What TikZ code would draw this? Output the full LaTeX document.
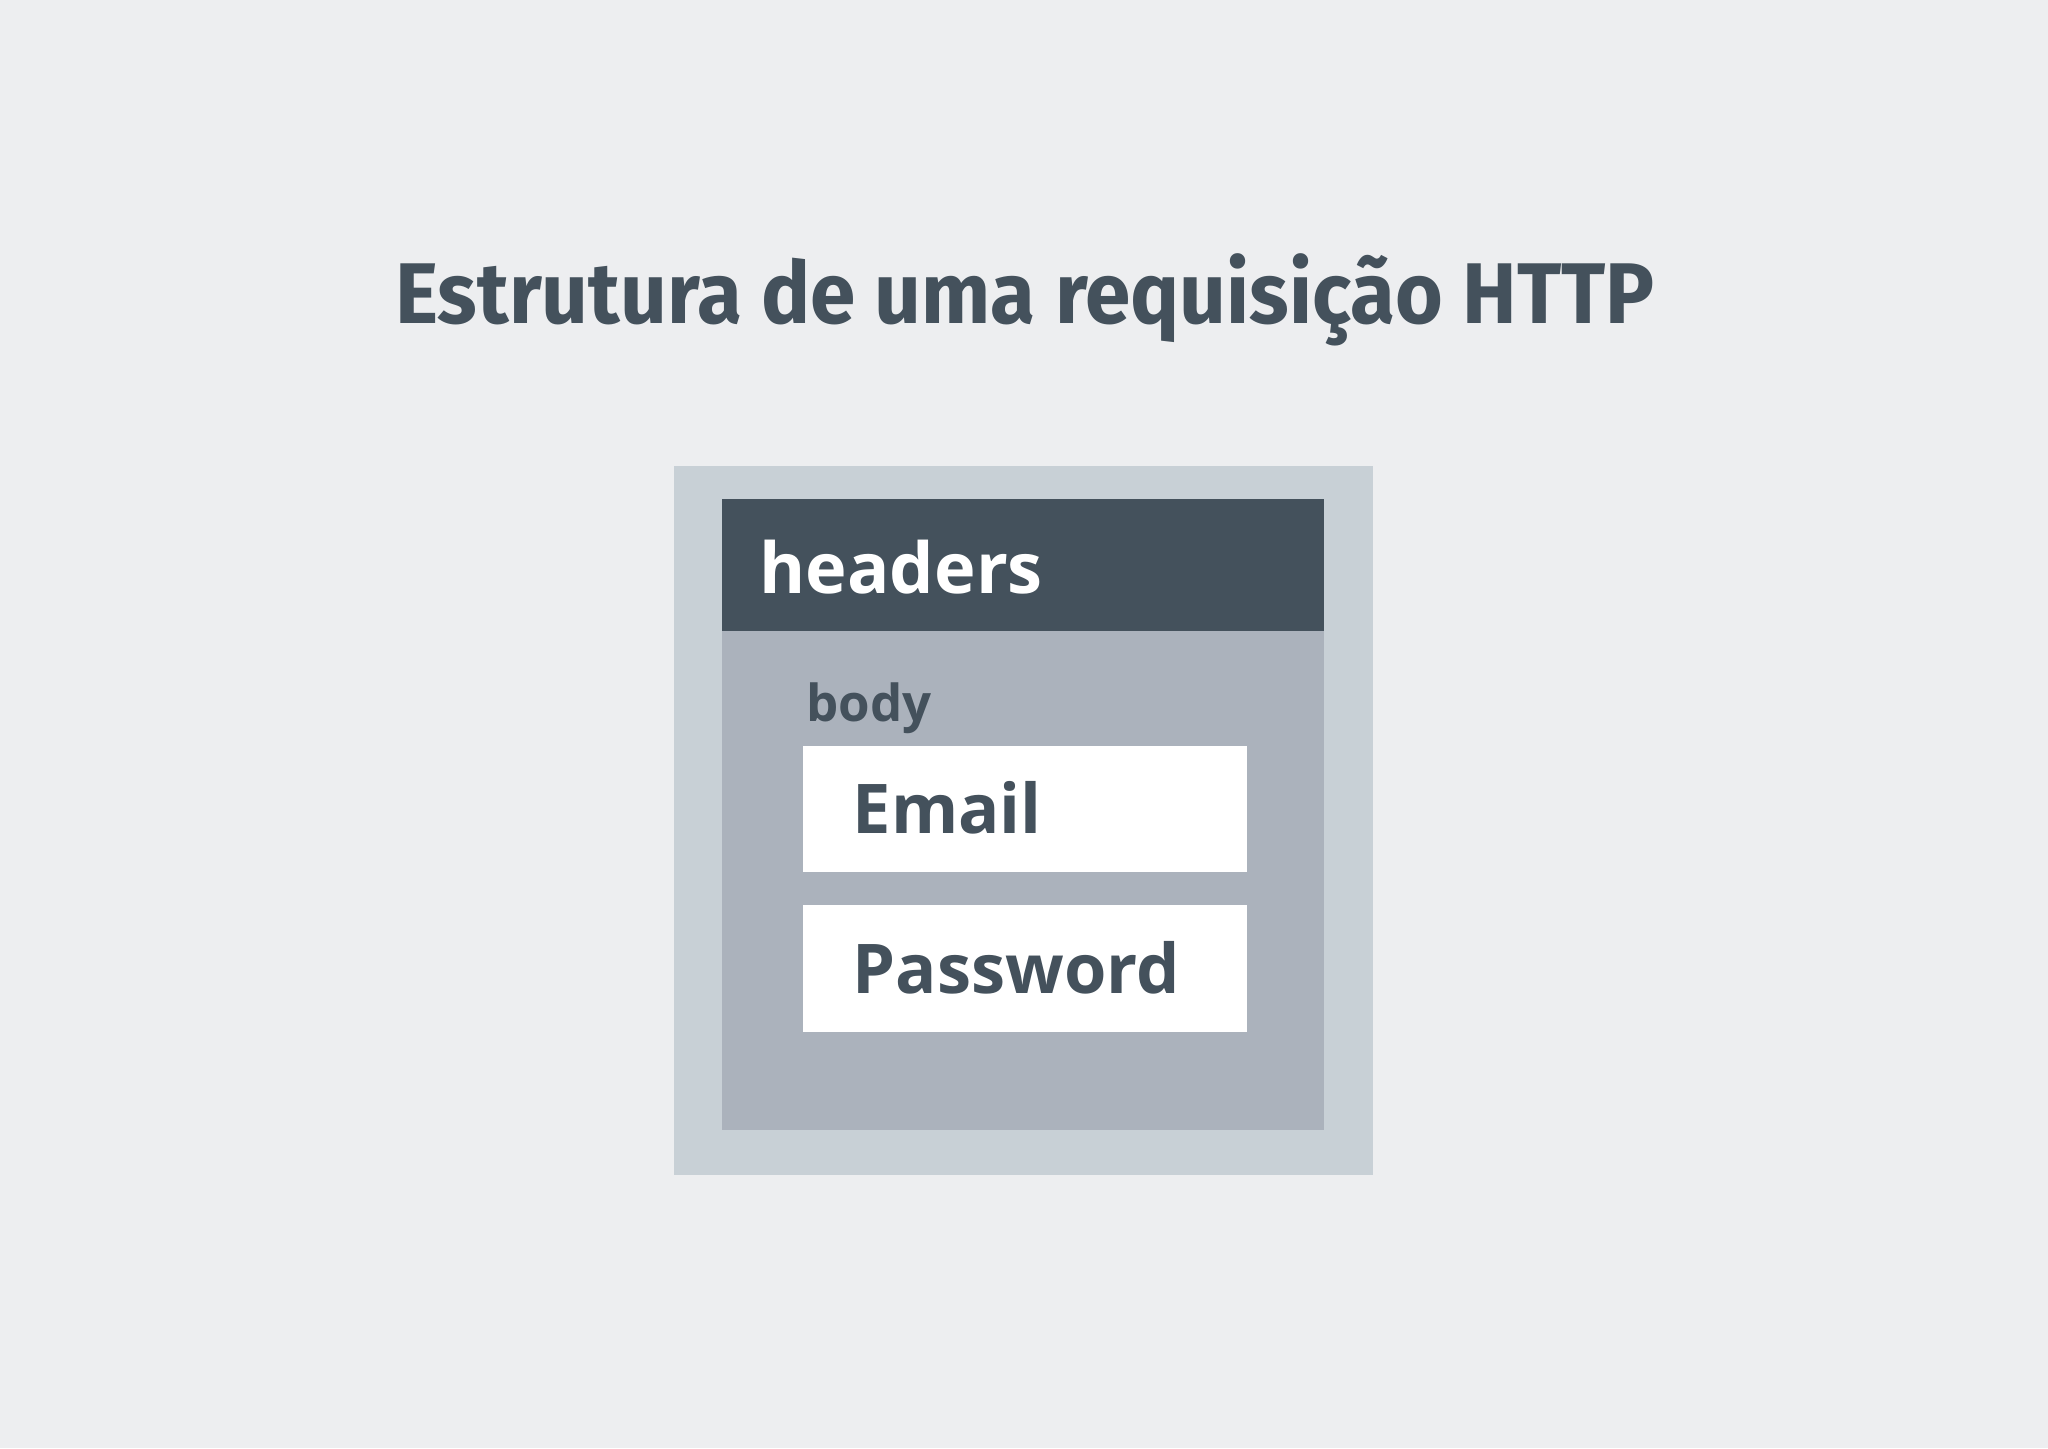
\documentclass[tikz,border=0pt]{standalone}
\usepackage{fontspec}
\setmainfont{Open Sans}
\newfontfamily\titlefont[FakeStretch=0.95]{Fira Sans}
\usetikzlibrary{positioning}

\definecolor{bgcol}{HTML}{EDEEF0}
\definecolor{framecol}{HTML}{C8D0D6}
\definecolor{darkcol}{HTML}{44515C}
\definecolor{bodycol}{HTML}{ABB2BC}

\tikzset{
	panel/.style={inner sep=0pt, outer sep=0pt, anchor=north west},
	label/.style={inner sep=0pt, anchor=base west, font=\bfseries, text=darkcol}
}

\begin{document}
\begin{tikzpicture}[x=0.01cm, y=-0.01cm]
		% Background of the whole picture
		\fill[bgcol] (0,0) rectangle (2048,1448);
		\useasboundingbox (0,0) rectangle (2048,1448);

		% Title
		\node[inner sep=0pt, anchor=base, text=darkcol, font=\titlefont\bfseries\fontsize{24.5}{28}\selectfont] (title) at (1025,323) {Estrutura de uma requisição HTTP};

		% Outer frame of the request
		\node[panel, fill=framecol, minimum width=6.99cm, minimum height=7.09cm] (request) at (674,466) {};

		% Headers bar and body area
		\node[panel, fill=darkcol, minimum width=6.02cm, minimum height=1.32cm] (headers) at (722,499) {};
		\node[panel, fill=bodycol, minimum width=6.02cm, minimum height=4.99cm] (body) at (722,631) {};

		% Fields of the body
		\node[panel, fill=white, minimum width=4.44cm, minimum height=1.26cm] (email) at (803,746) {};
		\node[panel, fill=white, minimum width=4.44cm, minimum height=1.27cm] (password) at (803,905) {};

		% Add labels
		\node[label, text=white, font=\bfseries\fontsize{20}{24}\selectfont] (headerslabel) at (759,593) {headers};
		\node[label, font=\bfseries\fontsize{14.5}{17}\selectfont] (bodylabel) at (806,721) {body};
		\node[label, font=\bfseries\fontsize{19.5}{23}\selectfont] (emaillabel) at (852,833) {Email};
		\node[label, font=\bfseries\fontsize{19.5}{23}\selectfont] (passwordlabel) at (852,993) {Password};

	\end{tikzpicture}
\end{document}
